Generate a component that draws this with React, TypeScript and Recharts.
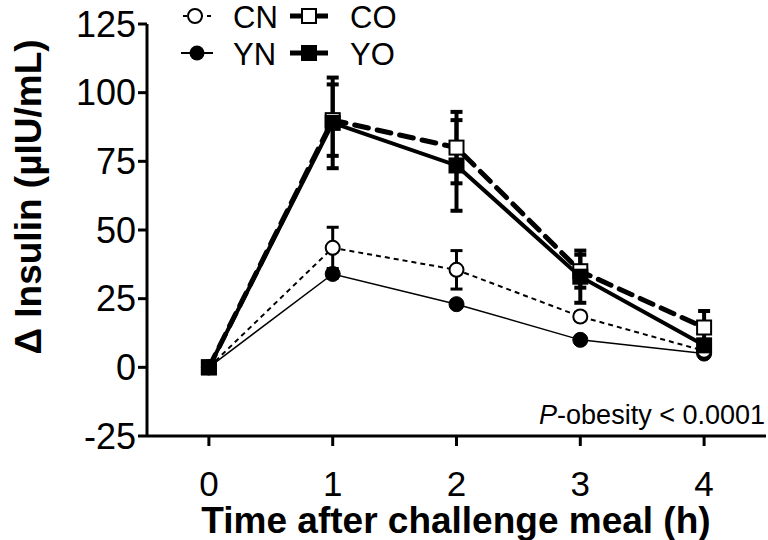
import { ComposedChart, Line, XAxis, YAxis, ErrorBar, Customized } from 'recharts'

const times = [0, 1, 2, 3, 4]
const cnMean = [0, 43.5, 35.5, 18.5, 6]
const cnErr = [0, 7.5, 7, 1.5, 1]
const coMean = [0, 90, 80, 35, 14.5]
const coErr = [0, 13, 13, 6, 6]
const ynMean = [0, 34, 23, 10, 5]
const ynErr = [0, 1.5, 1, 1, 1]
const yoMean = [0, 89, 73.5, 33, 8]
const yoErr = [0, 16.5, 16.5, 9.5, 2]
const yTicks = [-25, 0, 25, 50, 75, 100, 125]
const xTicks = [0, 1, 2, 3, 4]

const FONT = '"Liberation Sans", Arial, Helvetica, sans-serif'

const data = times.map((t, i) => ({
  t,
  cn: cnMean[i],
  cnE: cnErr[i],
  co: coMean[i],
  coE: coErr[i],
  yn: ynMean[i],
  ynE: ynErr[i],
  yo: yoMean[i],
  yoE: yoErr[i],
}))

type DotProps = { cx?: number; cy?: number; index?: number }

const openCircle = (p: DotProps) =>
  p.cx == null || p.cy == null ? <g key={p.index} /> : (
    <circle key={p.index} cx={p.cx} cy={p.cy} r={7} fill="#fff" stroke="#000" strokeWidth={2} />
  )
const fullCircle = (p: DotProps) =>
  p.cx == null || p.cy == null ? <g key={p.index} /> : (
    <circle key={p.index} cx={p.cx} cy={p.cy} r={7.5} fill="#000" stroke="#000" strokeWidth={1} />
  )
const openSquare = (p: DotProps) =>
  p.cx == null || p.cy == null ? <g key={p.index} /> : (
    <rect key={p.index} x={p.cx - 7} y={p.cy - 7} width={14} height={14} fill="#fff" stroke="#000" strokeWidth={2} />
  )
const fullSquare = (p: DotProps) =>
  p.cx == null || p.cy == null ? <g key={p.index} /> : (
    <rect key={p.index} x={p.cx - 8} y={p.cy - 8} width={16} height={16} fill="#000" />
  )

function Decorations() {
  return (
    <g fontFamily={FONT} fill="#000">
      {/* legend */}
      <line x1={183} y1={16} x2={213} y2={16} stroke="#000" strokeWidth={2} strokeDasharray="4 4" />
      <circle cx={195} cy={16} r={7} fill="#fff" stroke="#000" strokeWidth={2} />
      <text x={233} y={28} fontSize={31}>CN</text>
      <line x1={290} y1={16} x2={328} y2={16} stroke="#000" strokeWidth={5} />
      <rect x={302} y={9} width={14} height={14} fill="#fff" stroke="#000" strokeWidth={2} />
      <text x={350} y={28} fontSize={31}>CO</text>
      <line x1={181} y1={53} x2={213} y2={53} stroke="#000" strokeWidth={2} />
      <circle cx={197} cy={53} r={7.5} fill="#000" />
      <text x={233} y={65} fontSize={31}>YN</text>
      <line x1={290} y1={53} x2={328} y2={53} stroke="#000" strokeWidth={5} />
      <rect x={301} y={45} width={16} height={16} fill="#000" />
      <text x={350} y={65} fontSize={31}>YO</text>

      <text x={765} y={424} fontSize={27} textAnchor="end">
        <tspan fontStyle="italic">P</tspan>-obesity &lt; 0.0001
      </text>
      <text x={456} y={533} fontSize={37} fontWeight="bold" textAnchor="middle">
        Time after challenge meal (h)
      </text>
      <text
        transform="translate(41,197) rotate(-90)"
        fontSize={37}
        fontWeight="bold"
        textAnchor="middle"
      >
        Δ Insulin (µIU/mL)
      </text>
    </g>
  )
}

export default function App() {
  return (
    <div style={{ position: 'absolute', left: 0, top: 0, background: '#fff' }}>
      <ComposedChart
        width={768}
        height={540}
        data={data}
        margin={{ top: 24, right: 2, bottom: 0, left: 0 }}
      >
        <XAxis
          type="number"
          dataKey="t"
          domain={[-0.5, 4.5]}
          ticks={xTicks}
          allowDataOverflow
          height={104}
          tickSize={10}
          tickMargin={25}
          axisLine={{ stroke: '#000', strokeWidth: 3 }}
          tickLine={{ stroke: '#000', strokeWidth: 3 }}
          tick={{ fill: '#000', fontSize: 35, fontFamily: FONT }}
        />
        <YAxis
          type="number"
          domain={[-25, 125]}
          ticks={yTicks}
          allowDataOverflow
          width={147}
          tickSize={9}
          tickMargin={2}
          axisLine={{ stroke: '#000', strokeWidth: 3 }}
          tickLine={{ stroke: '#000', strokeWidth: 3 }}
          tick={{ fill: '#000', fontSize: 36, fontFamily: FONT }}
        />
        <Line
          dataKey="yn"
          stroke="#000"
          strokeWidth={1.5}
          dot={fullCircle}
          activeDot={false}
          isAnimationActive={false}
        >
          <ErrorBar dataKey="ynE" width={6} stroke="#000" strokeWidth={3} direction="y" />
        </Line>
        <Line
          dataKey="cn"
          stroke="#000"
          strokeWidth={2}
          strokeDasharray="5 4"
          dot={openCircle}
          activeDot={false}
          isAnimationActive={false}
        >
          <ErrorBar dataKey="cnE" width={6} stroke="#000" strokeWidth={3} direction="y" />
        </Line>
        <Line
          dataKey="co"
          stroke="#000"
          strokeWidth={5}
          strokeDasharray="14 9"
          strokeLinecap="round"
          dot={openSquare}
          activeDot={false}
          isAnimationActive={false}
        >
          <ErrorBar dataKey="coE" width={6} stroke="#000" strokeWidth={4} direction="y" />
        </Line>
        <Line
          dataKey="yo"
          stroke="#000"
          strokeWidth={4}
          dot={fullSquare}
          activeDot={false}
          isAnimationActive={false}
        >
          <ErrorBar dataKey="yoE" width={6} stroke="#000" strokeWidth={4} direction="y" />
        </Line>
        <Customized component={<Decorations />} />
      </ComposedChart>
    </div>
  )
}
